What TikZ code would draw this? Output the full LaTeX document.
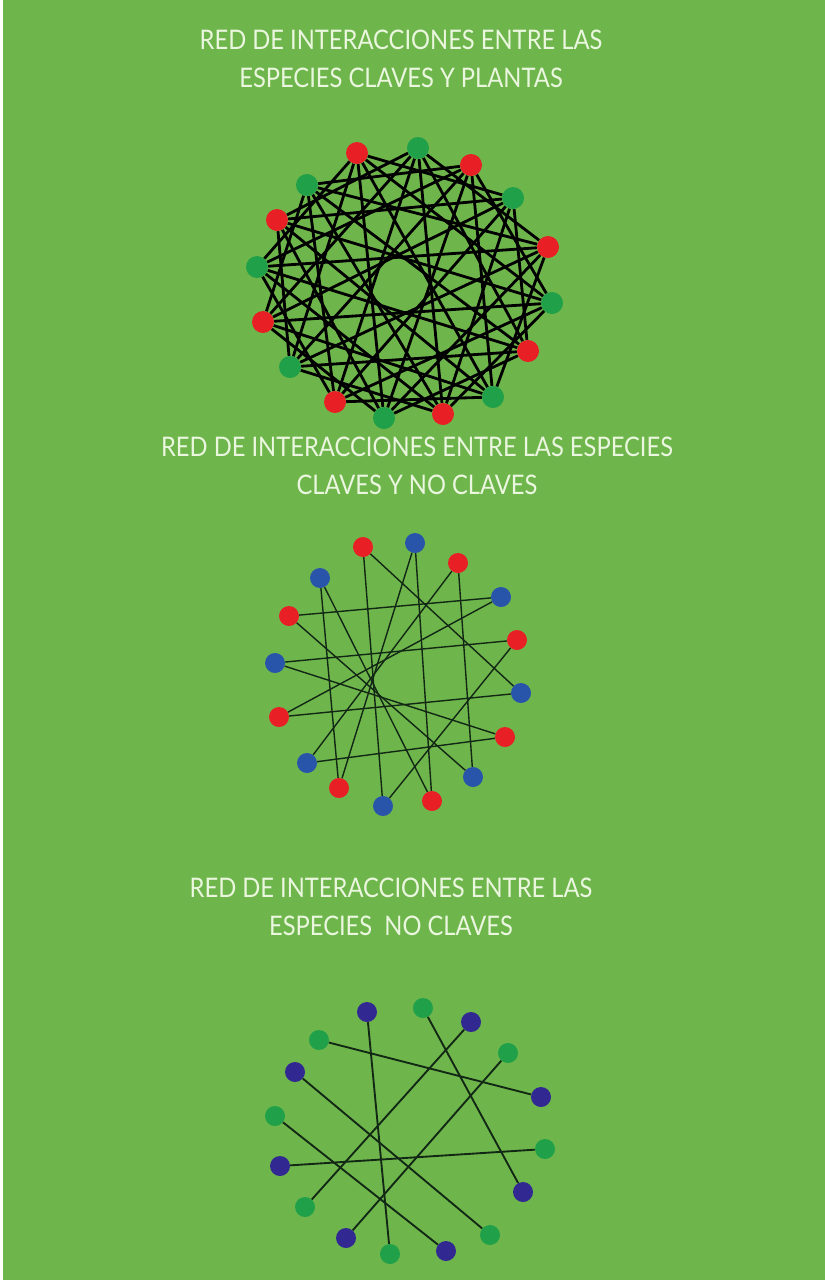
\documentclass[tikz,border=0pt]{standalone}
\usepackage{fontspec}
\setmainfont{Lato}[FakeStretch=0.88]
\definecolor{field}{RGB}{110,182,76}
\definecolor{titletext}{RGB}{234,246,222}
\definecolor{keyred}{RGB}{232,32,38}
\definecolor{plantgreen}{RGB}{32,160,72}
\definecolor{otherblue}{RGB}{40,84,170}
\definecolor{othernavy}{RGB}{50,40,145}
\definecolor{linkdark}{RGB}{18,40,20}

\begin{document}
\begin{tikzpicture}[
            x=0.03cm, y=-0.03cm,
            dot/.style={circle, inner sep=0pt, minimum size=0.66cm},
            smalldot/.style={circle, inner sep=0pt, minimum size=0.6cm},
            title/.style={text=titletext, align=center, font=\fontsize{23pt}{33pt}\selectfont},
            heavylink/.style={line width=2.4pt, black},
            thinlink/.style={line width=1.2pt, linkdark},
            midlink/.style={line width=1.6pt, linkdark}
        ]
        \fill[white] (0,0) rectangle (825,1280);
        \fill[field] (3,0) rectangle (825,1280);

        \node[title] (tplantas) at (401,59) {RED DE INTERACCIONES ENTRE LAS\\ESPECIES CLAVES Y PLANTAS};
        \node[title] (tclaves) at (417,466) {RED DE INTERACCIONES ENTRE LAS ESPECIES\\CLAVES Y NO CLAVES};
        \node[title] (tnoclaves) at (391,907) {RED DE INTERACCIONES ENTRE LAS\\ESPECIES\ \ NO CLAVES};

        \foreach \i/\x/\y/\c in {1/357/153/keyred, 2/418/148/plantgreen, 3/471/165/keyred, 4/513/198/plantgreen,
                5/548/247/keyred, 6/552/303/plantgreen, 7/528/351/keyred, 8/493/397/plantgreen,
                9/443/414/keyred, 10/384/418/plantgreen, 11/335/402/keyred, 12/290/367/plantgreen,
                13/263/322/keyred, 14/257/267/plantgreen, 15/277/220/keyred, 16/307/185/plantgreen}
            \node[dot, fill=\c] (p\i) at (\x,\y) {};
        \foreach \i in {1,...,16}
            \foreach \k in {3,5,7} {
                \pgfmathtruncatemacro{\j}{mod(\i+\k-1,16)+1}
                \draw[heavylink] (p\i) -- (p\j);
            }

        \foreach \i/\x/\y/\c in {1/363/547/keyred, 2/415/543/otherblue, 3/458/563/keyred, 4/501/597/otherblue,
                5/517/640/keyred, 6/521/693/otherblue, 7/505/737/keyred, 8/473/777/otherblue,
                9/432/801/keyred, 10/383/806/otherblue, 11/339/788/keyred, 12/307/763/otherblue,
                13/279/717/keyred, 14/275/663/otherblue, 15/289/616/keyred, 16/320/578/otherblue}
            \node[smalldot, fill=\c] (c\i) at (\x,\y) {};
        \foreach \a/\b in {1/10, 1/6, 2/11, 2/9, 3/12, 3/8, 4/15, 4/13,
                5/14, 5/10, 6/13, 7/12, 7/14, 8/15, 9/16, 11/16}
            \draw[thinlink] (c\a) -- (c\b);

        \foreach \i/\x/\y/\c in {1/367/1012/othernavy, 2/423/1008/plantgreen, 3/471/1022/othernavy, 4/508/1053/plantgreen,
                5/541/1097/othernavy, 6/545/1149/plantgreen, 7/523/1192/othernavy, 8/490/1235/plantgreen,
                9/446/1251/othernavy, 10/390/1254/plantgreen, 11/346/1238/othernavy, 12/305/1207/plantgreen,
                13/280/1166/othernavy, 14/275/1116/plantgreen, 15/295/1072/othernavy, 16/319/1040/plantgreen}
            \node[smalldot, fill=\c] (n\i) at (\x,\y) {};
        \foreach \a/\b in {16/5, 1/10, 2/7, 3/12, 4/11, 15/8, 14/9, 13/6}
            \draw[midlink] (n\a) -- (n\b);
    \end{tikzpicture}
\end{document}
